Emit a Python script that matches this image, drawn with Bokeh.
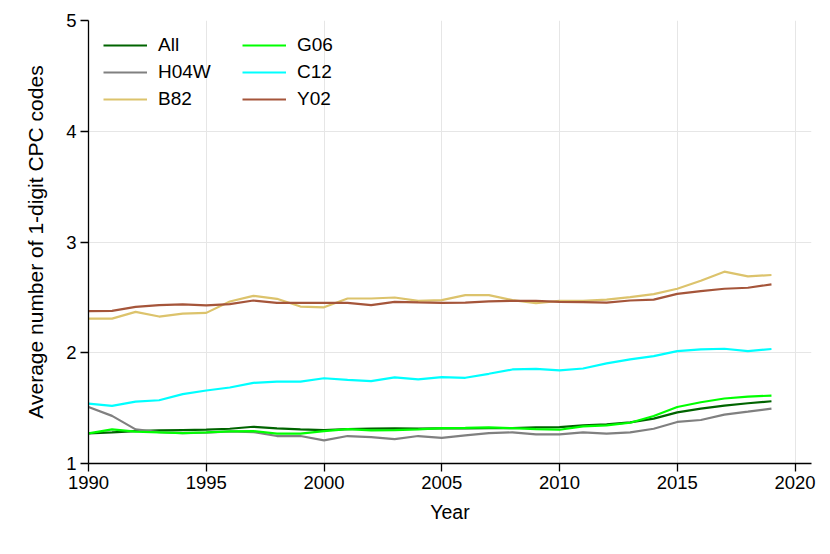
from bokeh.plotting import figure
from bokeh.models import Range1d, FixedTicker, Legend, LegendItem
from bokeh.embed import file_html
from bokeh.resources import INLINE

years = list(range(1990, 2020))

all_vals = [1.272, 1.281, 1.293, 1.299, 1.302, 1.305, 1.314, 1.332, 1.317, 1.308,
            1.302, 1.311, 1.314, 1.317, 1.314, 1.317, 1.317, 1.320, 1.320, 1.326,
            1.328, 1.344, 1.353, 1.372, 1.405, 1.462, 1.496, 1.523, 1.544, 1.562]
h04w_vals = [1.510, 1.430, 1.308, 1.284, 1.275, 1.278, 1.290, 1.284, 1.248, 1.248,
             1.209, 1.248, 1.239, 1.220, 1.248, 1.232, 1.254, 1.275, 1.281, 1.263,
             1.263, 1.281, 1.269, 1.281, 1.314, 1.375, 1.393, 1.441, 1.468, 1.496]
b82_vals = [2.308, 2.308, 2.369, 2.327, 2.354, 2.360, 2.463, 2.514, 2.487, 2.417,
            2.410, 2.490, 2.490, 2.499, 2.469, 2.475, 2.520, 2.520, 2.475, 2.448,
            2.469, 2.469, 2.480, 2.502, 2.529, 2.578, 2.650, 2.732, 2.689, 2.702]
g06_vals = [1.272, 1.308, 1.287, 1.281, 1.275, 1.281, 1.290, 1.293, 1.269, 1.269,
            1.293, 1.311, 1.299, 1.302, 1.308, 1.320, 1.322, 1.326, 1.319, 1.311,
            1.305, 1.335, 1.344, 1.368, 1.429, 1.510, 1.553, 1.587, 1.604, 1.613]
c12_vals = [1.541, 1.520, 1.559, 1.571, 1.626, 1.659, 1.686, 1.728, 1.740, 1.740,
            1.770, 1.755, 1.744, 1.777, 1.760, 1.780, 1.774, 1.810, 1.849, 1.855,
            1.840, 1.858, 1.904, 1.940, 1.970, 2.015, 2.030, 2.036, 2.015, 2.034]
y02_vals = [2.375, 2.378, 2.414, 2.430, 2.436, 2.427, 2.439, 2.472, 2.450, 2.450,
            2.450, 2.450, 2.430, 2.460, 2.454, 2.450, 2.453, 2.463, 2.469, 2.469,
            2.460, 2.458, 2.453, 2.472, 2.480, 2.532, 2.556, 2.578, 2.587, 2.617]

series_names = ["All", "H04W", "B82", "G06", "C12", "Y02"]
series_vals = [all_vals, h04w_vals, b82_vals, g06_vals, c12_vals, y02_vals]
series_colors = ["#006400", "#808080", "#dcc36c", "#00ff00", "#00ffff", "#a5553a"]

x_ticks = [1990, 1995, 2000, 2005, 2010, 2015, 2020]
y_ticks = [1, 2, 3, 4, 5]

FONT = "Liberation Sans"

p = figure(width=822, height=546, output_backend="svg", toolbar_location=None,
           x_range=Range1d(1990, 2020.7), y_range=Range1d(1, 5),
           min_border_left=88, min_border_right=11, min_border_top=20, min_border_bottom=83)
p.outline_line_color = None
p.background_fill_color = "white"

renderers = []
for name, vals, col in zip(series_names, series_vals, series_colors):
    r = p.line(years, vals, line_color=col, line_width=2.2)
    renderers.append(r)

for ax in (p.xaxis[0], p.yaxis[0]):
    ax.axis_line_color = "black"
    ax.axis_line_width = 1.3
    ax.major_tick_line_color = "black"
    ax.major_tick_line_width = 1.3
    ax.major_tick_in = 0
    ax.major_tick_out = 8
    ax.minor_tick_line_color = None
    ax.major_label_text_font = FONT
    ax.major_label_text_font_size = "18.5px"
    ax.major_label_text_color = "black"
    ax.axis_label_text_font = FONT
    ax.axis_label_text_font_style = "normal"
    ax.axis_label_text_color = "black"

p.xaxis.axis_label_text_font_size = "19.5px"
p.yaxis.axis_label_text_font_size = "21px"
p.xaxis.ticker = FixedTicker(ticks=x_ticks)
p.yaxis.ticker = FixedTicker(ticks=y_ticks)
p.xaxis.axis_label = "Year"
p.yaxis.axis_label = "Average number of 1-digit CPC codes"
p.xaxis.major_label_standoff = 4
p.yaxis.major_label_standoff = 4
p.xaxis.axis_label_standoff = 9
p.yaxis.axis_label_standoff = 16

p.xgrid.ticker = FixedTicker(ticks=x_ticks)
p.ygrid.ticker = FixedTicker(ticks=y_ticks)
for g in (p.xgrid[0], p.ygrid[0]):
    g.grid_line_color = "#e6e6e6"
    g.grid_line_width = 1

def make_legend(idx, loc):
    items = [LegendItem(label=series_names[i], renderers=[renderers[i]]) for i in idx]
    lg = Legend(items=items, location=loc, orientation="vertical",
                label_text_font=FONT, label_text_font_size="19px",
                label_text_color="black",
                glyph_width=44, glyph_height=20, label_height=20,
                label_standoff=11, spacing=5, padding=0, margin=0,
                border_line_alpha=0, background_fill_alpha=0)
    return lg

p.add_layout(make_legend([0, 1, 2], (15, 353)))
p.add_layout(make_legend([3, 4, 5], (154, 353)))

open("out.html", "w").write(file_html(p, INLINE))
